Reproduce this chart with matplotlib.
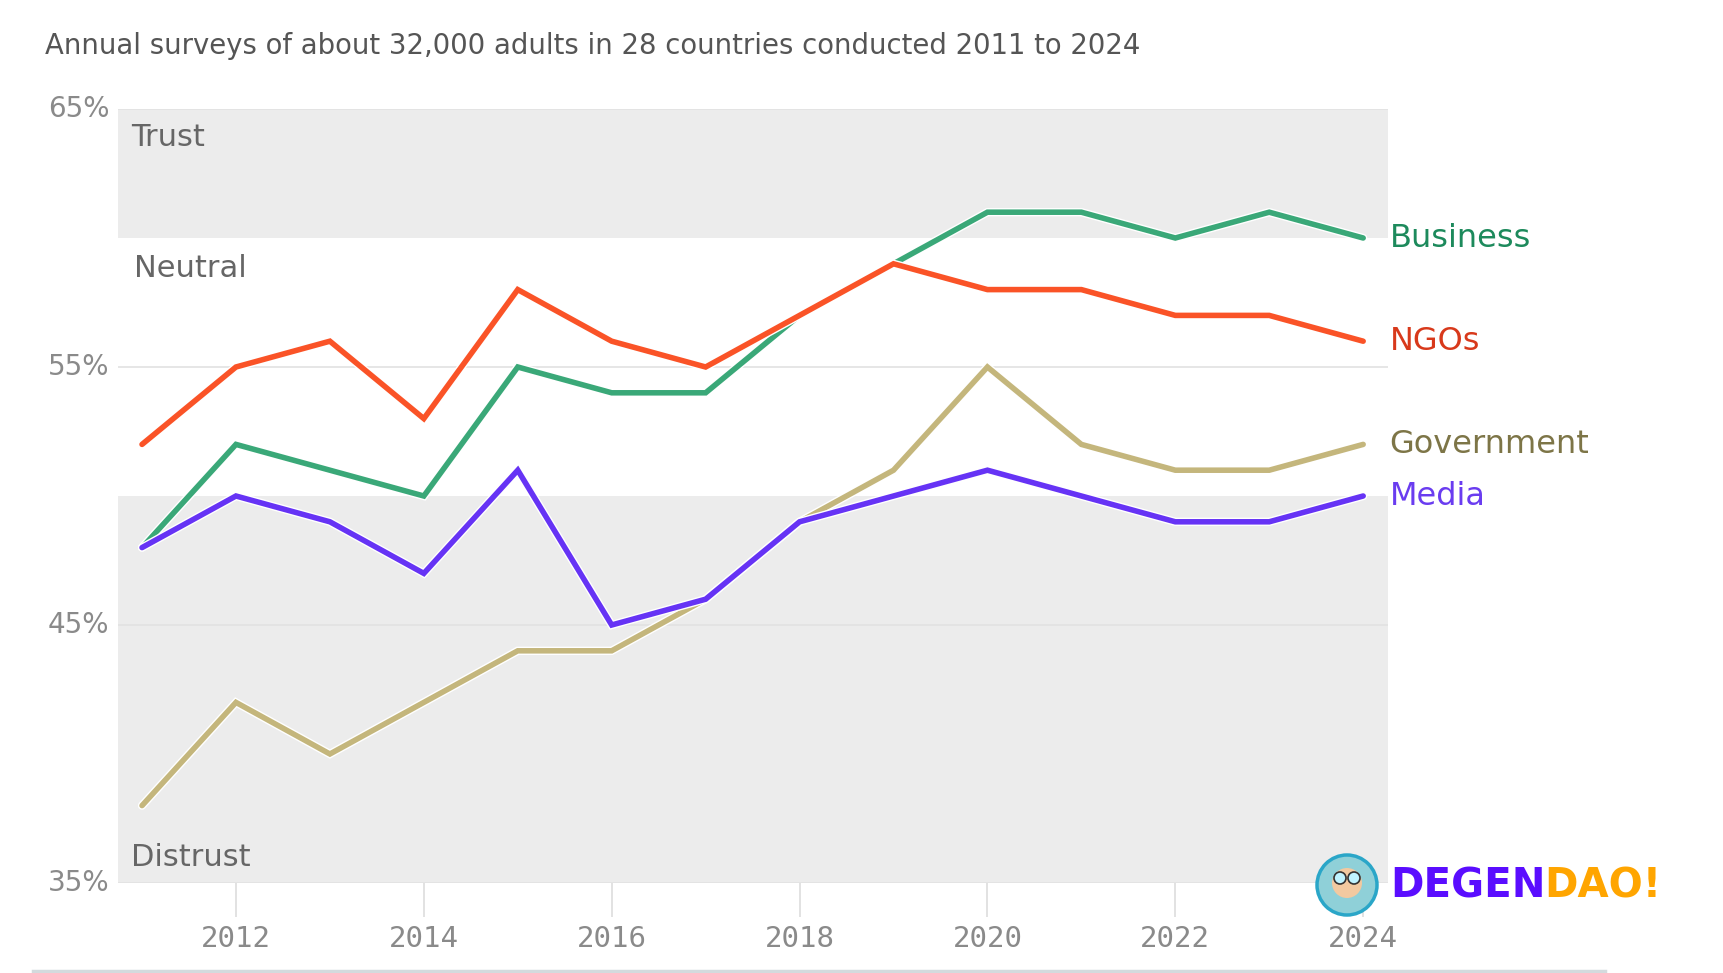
import matplotlib.pyplot as plt
import matplotlib.patheffects as pe
from matplotlib.patches import Circle

years = list(range(2011, 2025))
business = [48, 52, 51, 50, 55, 54, 54, 57, 59, 61, 61, 60, 61, 60]
ngos = [52, 55, 56, 53, 58, 56, 55, 57, 59, 58, 58, 57, 57, 56]
government = [38, 42, 40, 42, 44, 44, 46, 49, 51, 55, 52, 51, 51, 52]
media = [48, 50, 49, 47, 51, 45, 46, 49, 50, 51, 50, 49, 49, 50]

series = [
    ("Government", government, "#c4b67c", "#7d7547"),
    ("Business", business, "#3aa878", "#1d8a5c"),
    ("Media", media, "#6633f5", "#6a3cf0"),
    ("NGOs", ngos, "#fa5327", "#d8391b"),
]
label_y = {"Business": 60, "NGOs": 56, "Government": 52, "Media": 50}
title = "Annual surveys of about 32,000 adults in 28 countries conducted 2011 to 2024"
x_ticks = [2012, 2014, 2016, 2018, 2020, 2022, 2024]
y_ticks = [35, 45, 55, 65]

narrow = ["DejaVu Sans Condensed", "Liberation Sans Narrow", "DejaVu Sans"]

W, H = 1724, 973
fig = plt.figure(figsize=(W / 100, H / 100), dpi=100)
ax = fig.add_axes([117.6 / W, 1 - 883 / H, (1387.6 - 117.6) / W, (883 - 109) / H])
ax.set_xlim(2010.74, 2024.26)
ax.set_ylim(35, 65)

# zones
band = "#ececec"
ax.axhspan(60, 65, color=band, zorder=0, lw=0)
ax.axhspan(35, 50, color=band, zorder=0, lw=0)
for y in y_ticks:
    ax.axhline(y, color="#e2e2e2", lw=1.2, zorder=0.5)

for name, vals, c, tc in series:
    ax.plot(years, vals, color=c, lw=4, solid_capstyle="round", solid_joinstyle="miter",
            zorder=3, path_effects=[pe.Stroke(linewidth=6, foreground="white"), pe.Normal()])
    ax.text(2024.28, label_y[name], name, color=tc, fontsize=23, va="center", ha="left",
            family="DejaVu Sans", clip_on=False)

ax.text(2010.88, 63.9, "Trust", fontsize=22, color="#666666", va="center")
ax.text(2010.91, 58.8, "Neutral", fontsize=22, color="#666666", va="center")
ax.text(2010.88, 36.0, "Distrust", fontsize=22, color="#666666", va="center")

for s in ax.spines.values():
    s.set_visible(False)
ax.set_xticks(x_ticks)
ax.set_xticklabels([str(x) for x in x_ticks], family="DejaVu Sans Mono", fontsize=21, color="#8a8a8a")
ax.tick_params(axis="x", length=24.5, width=1.2, color="#dddddd", pad=6)
ax.set_yticks(y_ticks)
ax.set_yticklabels([f"{y}%" for y in y_ticks], family=narrow, fontsize=20, color="#8a8a8a")
ax.tick_params(axis="y", length=0, pad=6)
for lab in ax.get_yticklabels():
    lab.set_va("center")

fig.text(45 / W, 1 - 46 / H, title, fontsize=19.8, color="#555555", va="center", ha="left",
         family=narrow)

# bottom rule
fig.add_artist(plt.Line2D([33 / W, 1605 / W], [1 - 971 / H, 1 - 971 / H], color="#d3dadd", lw=2.5))

# watermark
inch = fig.dpi_scale_trans
cx, cy = 13.47, (H - 885) / 100
fig.add_artist(Circle((cx, cy), 0.30, transform=inch, facecolor="#8fd0d8",
                      edgecolor="#2aa6c8", lw=2.5, zorder=5))
fig.add_artist(Circle((cx, cy + 0.02), 0.15, transform=inch, facecolor="#f2c9a0",
                      edgecolor="none", zorder=6))
fig.add_artist(Circle((cx - 0.07, cy + 0.07), 0.06, transform=inch, facecolor="#bff3ff",
                      edgecolor="#333333", lw=1.2, zorder=7))
fig.add_artist(Circle((cx + 0.07, cy + 0.07), 0.06, transform=inch, facecolor="#bff3ff",
                      edgecolor="#333333", lw=1.2, zorder=7))
fig.text(1390 / W, 1 - 886 / H, "DEGEN", fontsize=29, fontweight="bold", color="#5a0dff",
         ha="left", va="center", family="DejaVu Sans", zorder=8)
fig.text(1544 / W, 1 - 886 / H, "DAO!", fontsize=29, fontweight="bold", color="#ffa500",
         ha="left", va="center", family="DejaVu Sans", zorder=8)

fig.savefig("out.png", dpi=100, facecolor="white")
